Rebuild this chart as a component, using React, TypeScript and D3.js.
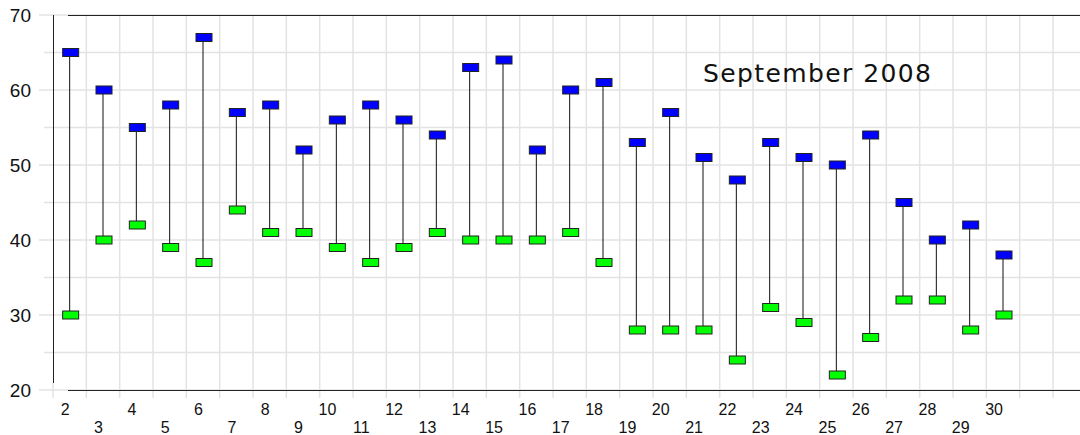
import * as d3 from 'd3';
import React from 'react';

// daily high / low, September 2008
const days = ['2', '3', '4', '5', '6', '7', '8', '9', '10', '11', '12', '13', '14', '15', '16', '17', '18', '19', '20', '21', '22', '23', '24', '25', '26', '27', '28', '29', '30'];
const highs = [65, 60, 55, 58, 67, 57, 58, 52, 56, 58, 56, 54, 63, 64, 52, 60, 61, 53, 57, 51, 48, 53, 51, 50, 54, 45, 40, 42, 38];
const lows = [30, 40, 42, 39, 37, 44, 41, 41, 39, 37, 39, 41, 40, 40, 40, 41, 37, 28, 28, 28, 24, 31, 29, 22, 27, 32, 32, 28, 30];
const emptySlots = ['31', '32'];
const majorTicks = [20, 30, 40, 50, 60, 70];
const minorTicks = [25, 35, 45, 55, 65];
const title = 'September 2008';

const width = 1080;
const height = 435;
const margin = { top: 15, left: 53, bottom: 390 };
const band = 1000 / 30;

const App = () => {
	const x = d3
		.scaleBand()
		.domain(days.concat(emptySlots))
		.range([margin.left, margin.left + band * 31])
		.padding(0);
	const y = d3.scaleLinear().domain([20, 70]).range([margin.bottom, margin.top]);

	const cx = (d: string) => (x(d) as number) + x.bandwidth() / 2;
	const bounds = x.domain().slice(1).map(d => x(d) as number);
	const grid = '#e3e3e3';

	return (
		<div style={{ position: 'absolute', left: 0, top: 0 }}>
			<svg width={width} height={height} style={{ display: 'block' }}>
				<rect width={width} height={height} fill="white" />
				{/* horizontal grid */}
				{majorTicks.map(t => (
					<line key={'M' + t} x1={39} x2={width} y1={y(t)} y2={y(t)} stroke={grid} strokeWidth={1.5} />
				))}
				{minorTicks.map(t => (
					<line key={'m' + t} x1={44} x2={width} y1={y(t)} y2={y(t)} stroke={grid} strokeWidth={1.5} />
				))}
				{/* vertical grid */}
				{bounds.map((b, i) => (
					<line key={'v' + i} x1={b} x2={b} y1={margin.top} y2={margin.bottom + 8} stroke={grid} strokeWidth={1.5} />
				))}
				<line x1={margin.left} x2={margin.left} y1={margin.bottom - 7} y2={margin.bottom + 8} stroke={grid} strokeWidth={1.5} />
				{/* frame */}
				<line x1={68} x2={width} y1={y(70) + 0.5} y2={y(70) + 0.5} stroke="#222" />
				<line x1={68} x2={width} y1={y(20) + 0.5} y2={y(20) + 0.5} stroke="#222" />
				<line x1={margin.left + 0.5} x2={margin.left + 0.5} y1={margin.top} y2={margin.bottom - 7} stroke="#222" />

				{/* y labels */}
				<g fontFamily="'Liberation Sans', Arial, sans-serif" fontSize={19} fill="#111" textAnchor="end">
					{majorTicks.map(t => (
						<text key={t} x={31} y={y(t)} dy="0.36em">
							{t}
						</text>
					))}
				</g>

				{/* x labels, alternating rows */}
				<g fontFamily="'Liberation Sans', Arial, sans-serif" fontSize={16} fill="#111" textAnchor="end">
					{days.map((d, i) => (
						<text key={d} x={cx(d)} y={i % 2 === 0 ? 415 : 433}>
							{d}
						</text>
					))}
				</g>

				{/* high-low stems and markers */}
				{days.map((d, i) => (
					<g key={'bar' + d}>
						<line x1={cx(d)} x2={cx(d)} y1={y(highs[i])} y2={y(lows[i])} stroke="#111" strokeWidth={1} />
						<rect x={cx(d) - 7} y={y(highs[i]) - 4} width={16} height={8} fill="#0000ff" stroke="#222" strokeWidth={1} />
						<rect x={cx(d) - 7} y={y(lows[i]) - 4} width={16} height={8} fill="#00ff00" stroke="#222" strokeWidth={1} />
					</g>
				))}

				<text x={703} y={82} fontFamily="'DejaVu Sans', Verdana, sans-serif" fontSize={25} letterSpacing={1.4} fill="#111">
					{title}
				</text>
			</svg>
		</div>
	);
};

export default App;
